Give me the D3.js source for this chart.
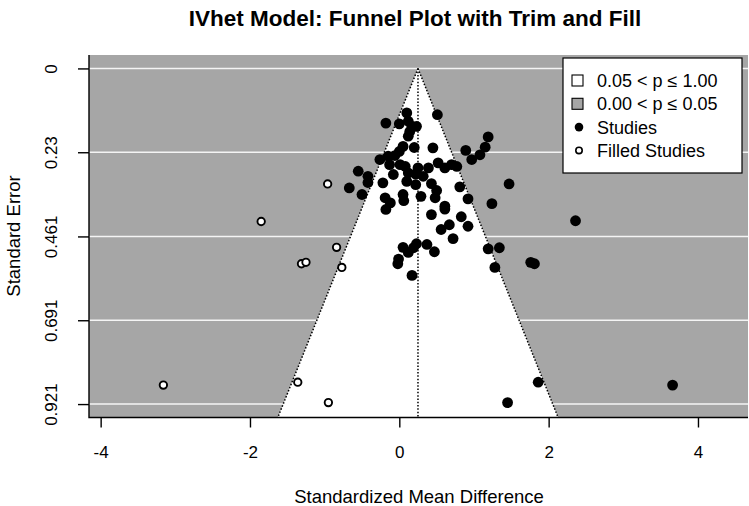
<!DOCTYPE html>
<html>
<head>
<meta charset="utf-8">
<script src="https://cdn.jsdelivr.net/npm/d3@7"></script>
<style>
  html, body { margin: 0; padding: 0; background: #fff; }
  svg { display: block; font-family: "Liberation Sans", Arial, Helvetica, sans-serif; }
</style>
</head>
<body>
<svg id="chart" width="749" height="506"></svg>
<script>
// ---------------- data ----------------
const title = "IVhet Model: Funnel Plot with Trim and Fill";
const xLabel = "Standardized Mean Difference";
const yLabel = "Standard Error";

const pooledEstimate = 0.25;
const maxSE = 0.921;

const studyEffect = [0.10,0.51,-0.18,0.00,0.12,0.17,0.23,0.14,0.12,0.45,0.20,0.05,0.00,-0.06,-0.15,-0.26,-0.13,0.01,0.08,0.25,0.39,0.52,0.61,0.70,0.77,
  1.19,1.15,1.08,0.97,0.89,
  -0.55,-0.42,-0.42,-0.22,-0.08,0.10,0.12,0.22,0.32,0.43,0.50,-0.67,-0.50,0.81,1.47,-0.19,-0.12,0.05,0.06,0.29,0.48,0.61,0.92,1.24,-0.18,0.43,0.83,
  0.61,0.67,0.56,0.92,0.72,0.05,0.12,0.19,0.23,0.37,0.47,-0.01,-0.02,0.17,1.19,1.34,1.28,1.76,1.81,
  1.86,3.66,1.45,2.36,0.22];
const studySE = [0.122,0.127,0.150,0.152,0.145,0.159,0.159,0.173,0.186,0.218,0.217,0.214,0.228,0.239,0.241,0.250,0.264,0.264,0.269,0.273,0.273,0.259,0.273,0.264,0.269,
  0.188,0.216,0.237,0.250,0.225,
  0.282,0.296,0.313,0.314,0.291,0.310,0.287,0.319,0.296,0.316,0.335,0.328,0.346,0.325,0.317,0.355,0.369,0.346,0.363,0.351,0.355,0.378,0.358,0.371,0.387,0.401,0.407,
  0.386,0.429,0.442,0.433,0.467,0.491,0.505,0.492,0.481,0.483,0.503,0.523,0.536,0.568,0.495,0.492,0.546,0.532,0.536,
  0.861,0.869,0.917,0.418,0.290];

const filledEffect = [-0.96,-1.85,-0.84,-1.31,-1.25,-0.77,-3.16,-1.36,-0.95];
const filledSE     = [0.317,0.420,0.491,0.536,0.532,0.546,0.869,0.861,0.917];

const xTicks = [-4,-2,0,2,4];
const yTicks = [0,0.23,0.461,0.691,0.921];
const yTickLabels = ["0","0.23","0.461","0.691","0.921"];

const legendLabels = ["0.05 < p \u2264 1.00","0.00 < p \u2264 0.05","Studies","Filled Studies"];

// ---------------- layout ----------------
const svg = d3.select("#chart");
const L = 89, R = 748, T = 55, B = 417.5;
const grey = "#a6a6a6";

const x = d3.scaleLinear().domain([-4.156, 4.67]).range([L, R]);
const y = d3.scaleLinear().domain([-0.04 * maxSE, maxSE * 1.04]).range([T, B]);
const seBottom = maxSE * 1.04;

// background
svg.append("rect").attr("x", L).attr("y", T).attr("width", R - L).attr("height", B - T).attr("fill", grey);

// grid lines
svg.append("g").selectAll("line").data(yTicks).join("line")
  .attr("x1", L).attr("x2", R)
  .attr("y1", d => y(d)).attr("y2", d => y(d))
  .attr("stroke", "#f4f4f4").attr("stroke-width", 1.5);

// funnel polygon
const z = 1.96;
const funnel = [[pooledEstimate, 0],[pooledEstimate - z * seBottom, seBottom],[pooledEstimate + z * seBottom, seBottom]];
svg.append("polygon")
  .attr("points", funnel.map(p => [x(p[0]), y(p[1])].join(",")).join(" "))
  .attr("fill", "#ffffff");

// funnel dotted lines
const dash = "1.5,1.8";
svg.append("line").attr("x1", x(pooledEstimate)).attr("y1", y(0)).attr("x2", x(funnel[1][0])).attr("y2", y(seBottom))
  .attr("stroke", "#000").attr("stroke-width", 1.5).attr("stroke-dasharray", dash);
svg.append("line").attr("x1", x(pooledEstimate)).attr("y1", y(0)).attr("x2", x(funnel[2][0])).attr("y2", y(seBottom))
  .attr("stroke", "#000").attr("stroke-width", 1.5).attr("stroke-dasharray", dash);
svg.append("line").attr("x1", x(pooledEstimate)).attr("y1", y(0)).attr("x2", x(pooledEstimate)).attr("y2", y(seBottom))
  .attr("stroke", "#000").attr("stroke-width", 1.5).attr("stroke-dasharray", dash);

// points
const studies = studyEffect.map((v, i) => ({ x: v, se: studySE[i] }));
const filled = filledEffect.map((v, i) => ({ x: v, se: filledSE[i] }));

svg.append("g").selectAll("circle").data(studies).join("circle")
  .attr("cx", d => x(d.x)).attr("cy", d => y(d.se)).attr("r", 5.4)
  .attr("fill", "#000");

svg.append("g").selectAll("circle").data(filled).join("circle")
  .attr("cx", d => x(d.x)).attr("cy", d => y(d.se)).attr("r", 3.7)
  .attr("fill", "#fff").attr("stroke", "#000").attr("stroke-width", 1.9);

// box (L-shaped)
svg.append("path").attr("d", `M${L},${T}V${B}H${R}`).attr("fill", "none").attr("stroke", "#000").attr("stroke-width", 1.4);

// x axis
const xAxis = svg.append("g").attr("transform", `translate(0,${B})`)
  .call(d3.axisBottom(x).tickValues(xTicks).tickSize(10).tickSizeOuter(0).tickFormat(d3.format("d")));
xAxis.select(".domain").remove();
xAxis.selectAll(".tick line").attr("stroke", "#000").attr("stroke-width", 1.4);
xAxis.selectAll(".tick text").attr("font-size", 17).attr("fill", "#000").attr("y", 28).attr("dy", "0.71em")
  .text(d => d < 0 ? "-" + Math.abs(d) : String(d));

// y axis
const yAxis = svg.append("g").attr("transform", `translate(${L},0)`)
  .call(d3.axisLeft(y).tickValues(yTicks).tickSize(11).tickSizeOuter(0).tickFormat((d, i) => yTickLabels[i]));
yAxis.select(".domain").remove();
yAxis.selectAll(".tick line").attr("stroke", "#000").attr("stroke-width", 1.4);
yAxis.selectAll(".tick text")
  .attr("font-size", 17).attr("fill", "#000")
  .attr("transform", "rotate(-90)")
  .attr("x", 0).attr("y", -32).attr("dy", 0)
  .attr("text-anchor", "middle");

// labels
svg.append("text").attr("x", 415).attr("y", 26).attr("text-anchor", "middle")
  .attr("font-size", 22.5).attr("font-weight", "bold").attr("fill", "#000").text(title);
svg.append("text").attr("x", 419).attr("y", 503).attr("text-anchor", "middle")
  .attr("font-size", 18.5).attr("fill", "#000").text(xLabel);
svg.append("text").attr("transform", `translate(20,236) rotate(-90)`).attr("text-anchor", "middle")
  .attr("font-size", 18.5).attr("fill", "#000").text(yLabel);

// legend
const lg = svg.append("g");
lg.append("rect").attr("x", 563).attr("y", 58).attr("width", 179).attr("height", 115)
  .attr("fill", "#fff").attr("stroke", "#000").attr("stroke-width", 1.2);
const rowY = [80.5, 103.8, 127.1, 150.4];
lg.append("rect").attr("x", 572).attr("y", rowY[0] - 5.5).attr("width", 11).attr("height", 11)
  .attr("fill", "#fff").attr("stroke", "#000").attr("stroke-width", 1.1);
lg.append("rect").attr("x", 572).attr("y", rowY[1] - 5.5).attr("width", 11).attr("height", 11)
  .attr("fill", grey).attr("stroke", "#000").attr("stroke-width", 1.1);
lg.append("circle").attr("cx", 579).attr("cy", rowY[2]).attr("r", 4.3).attr("fill", "#000");
lg.append("circle").attr("cx", 579).attr("cy", rowY[3]).attr("r", 3.2).attr("fill", "#fff")
  .attr("stroke", "#000").attr("stroke-width", 1.6);
lg.selectAll("text.lab").data(legendLabels).join("text").attr("class", "lab")
  .attr("x", 597).attr("y", (d, i) => rowY[i] + 6.5)
  .attr("font-size", 18).attr("fill", "#000").text(d => d);
</script>
</body>
</html>
